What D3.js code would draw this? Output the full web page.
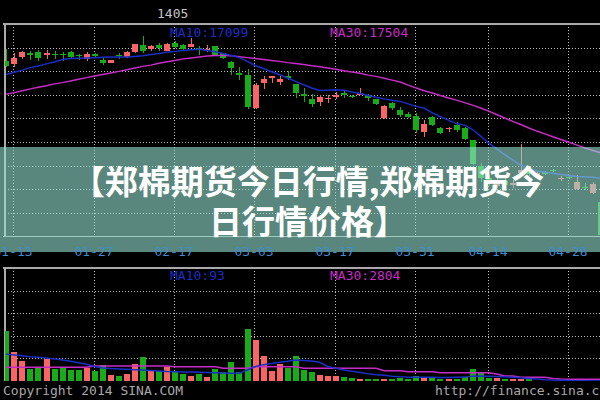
<!DOCTYPE html>
<html><head><meta charset="utf-8">
<script src="https://cdn.jsdelivr.net/npm/d3@7"></script>
<style>html,body{margin:0;padding:0;background:#000;}svg{display:block;}</style>
</head><body>
<svg id="chart" width="600" height="400"></svg>
<script>
// ---------- data ----------
const contract = "1405";
const dates = ["01-10","01-13","01-14","01-15","01-16","01-17","01-20","01-21","01-22","01-23",
"01-24","01-27","01-28","01-29","01-30","02-07","02-10","02-11","02-12","02-13",
"02-14","02-17","02-18","02-19","02-20","02-21","02-24","02-25","02-26","02-27",
"02-28","03-03","03-04","03-05","03-06","03-07","03-10","03-11","03-12","03-13",
"03-14","03-17","03-18","03-19","03-20","03-21","03-24","03-25","03-26","03-27",
"03-28","03-31","04-01","04-02","04-03","04-04","04-08","04-09","04-10","04-11",
"04-14","04-15","04-16","04-17","04-18","04-21","04-22","04-23","04-24","04-25",
"04-28","04-29","04-30","05-05","05-06"];
const tickDates = ["01-13","01-27","02-17","03-03","03-17","03-31","04-14","04-28"];
const open = [18975,18930,19045,19110,19120,19070,19090,19085,19125,19070,
19010,19090,19000,18950,19080,19035,19125,19230,19165,19230,
19140,19270,19230,19205,19185,19150,19210,19100,18965,18780,
18750,18220,18630,18700,18645,18735,18610,18450,18365,18325,
18370,18405,18460,18420,18430,18430,18365,18060,18300,18200,
18125,18095,17845,18075,17900,17885,17950,17900,17710,17295,
17105,16975,17055,16990,17185,17200,17150,17200,17230,17095,
17120,16925,16965,16860,16725];
const high = [19170,19105,19130,19135,19150,19160,19135,19120,19130,19090,
19125,19110,19020,18990,19110,19135,19255,19375,19230,19270,
19265,19295,19250,19345,19215,19230,19215,19105,18975,18885,
18845,18620,18730,18735,18735,18820,18615,18540,18450,18430,
18430,18485,18500,18430,18540,18450,18370,18270,18325,18245,
18165,18140,18030,18095,17925,17925,18005,17920,17720,17345,
17150,17105,17105,17070,17650,17230,17200,17215,17250,17135,
17135,17150,17025,17040,16750];
const low = [18880,18880,19010,18990,18975,19010,19010,18980,19025,18990,
18980,19025,18910,18945,19005,19030,19100,19110,19140,19140,
19135,19185,19150,19200,19070,19120,19055,19010,18750,18670,
18205,18215,18525,18630,18590,18670,18385,18325,18245,18250,
18305,18365,18380,18390,18425,18340,18280,18055,18190,18085,
18060,17820,17765,17935,17810,17845,17845,17710,17310,17040,
16975,16945,16910,16945,17150,17135,17135,17150,17200,17055,
17095,16920,16910,16850,16170];
const close = [18895,19025,19125,19065,19025,19105,19065,19070,19035,19055,
19095,19055,18940,18990,19055,19125,19250,19140,19215,19180,
19250,19195,19165,19250,19160,19175,19070,19020,18860,18750,
18240,18590,18685,18730,18685,18700,18460,18415,18290,18405,
18390,18430,18425,18395,18460,18390,18290,18250,18220,18110,
18085,17870,17970,17950,17830,17910,17880,17725,17330,17105,
17055,17040,16990,17025,17230,17170,17185,17175,17215,17110,
17110,17045,16940,17010,16190];
const ma10 = [18760,18795,18830,18870,18895,18930,18960,19000,19015,19020,
19025,19030,19035,19040,19040,19040,19050,19060,19080,19095,
19115,19130,19145,19155,19165,19145,19125,19095,19065,19030,
18970,18900,18855,18805,18755,18705,18650,18595,18545,18505,
18510,18515,18510,18480,18455,18425,18395,18370,18350,18330,
18290,18250,18220,18145,18085,18030,17975,17950,17880,17775,
17665,17570,17480,17390,17310,17255,17215,17195,17180,17160,
17145,17130,17125,17115,17099];
const ma30 = [18445,18470,18500,18530,18555,18580,18610,18630,18655,18685,
18710,18735,18760,18785,18810,18835,18865,18890,18910,18940,
18965,18985,19010,19025,19040,19055,19065,19065,19060,19045,
19030,19015,19000,18985,18970,18950,18935,18920,18900,18885,
18865,18845,18820,18800,18780,18750,18730,18700,18670,18640,
18590,18545,18500,18465,18425,18385,18350,18310,18270,18225,
18175,18120,18065,18010,17960,17905,17855,17810,17765,17720,
17675,17630,17585,17545,17504];
const volume = [83000,48300,33000,19300,22000,35800,19800,23600,18200,18200,
21000,16500,26400,9900,8300,11600,28000,40100,16500,16500,
22600,16500,11600,8300,11600,7100,19800,15300,31800,15300,
85800,67700,41300,17000,28000,21000,41300,18200,15300,9900,
8300,8300,6100,4500,3800,3300,4100,3300,2800,5000,
4100,8300,5800,5000,4100,3300,4100,6600,19300,12700,
5000,5000,4100,4100,3300,2500,800,500,300,200,
150,100,100,80,60];
const volMa10 = [44600,43000,41500,40000,39000,37800,36500,34800,32500,30000,
27500,24000,21500,20500,19800,19200,18700,18200,17400,16600,
15600,15300,15000,14700,14400,14000,13500,13000,12700,12700,
18200,24000,27000,29000,31000,32500,34600,34000,33000,31000,
24000,21000,18200,16000,14000,12000,10500,9300,8000,7000,
6300,6100,6100,6000,5900,5800,6000,6400,7800,8300,
8000,7600,7100,6300,5300,4300,3200,2200,1500,1100,
800,500,300,150,93];
const volMa30 = [22600,22600,22600,22600,22600,22600,22600,22600,22600,22600,
22600,24700,24700,24700,24700,24700,24700,24700,24700,24700,
24700,23600,23600,23600,23600,23600,23600,21000,21000,21000,
21000,23600,23600,23600,23600,23600,23600,21000,21000,21000,
21000,21000,21000,21000,21000,21000,21000,17000,17000,17000,
15300,15300,15300,15300,13700,13700,13700,13700,13700,13700,
13700,11600,8300,8300,6100,6100,6100,6100,4000,3200,
2804,2804,2804,2804,2804];
const titleLines = ["【郑棉期货今日行情,郑棉期货今", "日行情价格】"];
const copyrightText = "Copyright 2014 SINA.COM";
const urlText = "http://finance.sina.com.cn";
const priceDomain = [16170, 19568];
const volDomain = [0, 186450];

// ---------- drawing ----------
const W = 600, H = 400;
const mainTop = 24, mainBottom = 236.4, volTop = 268, volBottom = 381, leftEdge = 4.5;
const UP = "#fa6464", DOWN = "#18ac18", BLUE = "#1a2ec8", MAG = "#c82cc8", GRID = "#bdbdbd", BORDER = "#aaaaaa";
const MONO = "'DejaVu Sans Mono', 'Liberation Mono', monospace";

const svg = d3.select("#chart");
svg.append("rect").attr("width", W).attr("height", H).attr("fill", "#000");

const x = d3.scaleBand().domain(dates).range([2.18, 605.18]).paddingInner(0.28).paddingOuter(0.14);
const yP = d3.scaleLinear().domain(priceDomain).range([mainBottom, mainTop]);
const yV = d3.scaleLinear().domain(volDomain).range([volBottom, volTop]);
const cx = d => x(d) + x.bandwidth() / 2;
const bx = d => Math.round(x(d));
const bw = Math.round(x.bandwidth());
const isUp = i => close[i] >= open[i];

const defs = svg.append("defs");
defs.append("clipPath").attr("id", "clipMain").append("rect")
  .attr("x", 5).attr("y", mainTop + 1).attr("width", W - 5).attr("height", mainBottom - mainTop - 1);
defs.append("clipPath").attr("id", "clipVol").append("rect")
  .attr("x", 5).attr("y", volTop + 1).attr("width", W - 5).attr("height", volBottom - volTop - 1);

// grids
const grid = svg.append("g").attr("stroke", GRID).attr("stroke-dasharray", "1,2").attr("shape-rendering", "crispEdges");
const pStep = (priceDomain[1] - priceDomain[0]) / 9;
d3.range(1, 9).forEach(k => {
  const yy = Math.round(yP(priceDomain[0] + k * pStep)) + 0.5;
  grid.append("line").attr("x1", leftEdge).attr("x2", W).attr("y1", yy).attr("y2", yy);
});
const vStep = (volDomain[1] - volDomain[0]) / 5;
d3.range(1, 5).forEach(k => {
  const yy = Math.round(yV(k * vStep)) + 0.5;
  grid.append("line").attr("x1", leftEdge).attr("x2", W).attr("y1", yy).attr("y2", yy);
});
tickDates.forEach(d => {
  const gx = Math.round(cx(d) - 1) + 0.5;
  grid.append("line").attr("x1", gx).attr("x2", gx).attr("y1", mainTop).attr("y2", mainBottom);
  grid.append("line").attr("x1", gx).attr("x2", gx).attr("y1", volTop).attr("y2", volBottom);
});

// borders
const border = svg.append("g").attr("stroke", BORDER).attr("shape-rendering", "crispEdges");
border.append("line").attr("x1", 3).attr("x2", W).attr("y1", mainTop).attr("y2", mainTop).attr("stroke-width", 2);
border.append("line").attr("x1", leftEdge).attr("x2", leftEdge).attr("y1", mainTop).attr("y2", mainBottom).attr("stroke-width", 2);
border.append("line").attr("x1", 3).attr("x2", W).attr("y1", 236.5).attr("y2", 236.5).attr("stroke-width", 1);
border.append("line").attr("x1", 3).attr("x2", W).attr("y1", volTop).attr("y2", volTop).attr("stroke-width", 2);
border.append("line").attr("x1", leftEdge).attr("x2", leftEdge).attr("y1", volTop).attr("y2", volBottom).attr("stroke-width", 2);

// candles
const gMain = svg.append("g").attr("clip-path", "url(#clipMain)");
const cg = gMain.append("g").attr("shape-rendering", "crispEdges");
cg.selectAll("line.wick").data(dates).join("line").attr("class", "wick")
  .attr("x1", d => bx(d) + bw / 2).attr("x2", d => bx(d) + bw / 2)
  .attr("y1", (d, i) => yP(high[i])).attr("y2", (d, i) => yP(low[i]))
  .attr("stroke", (d, i) => isUp(i) ? UP : DOWN).attr("stroke-width", 1);
cg.selectAll("rect.body").data(dates).join("rect").attr("class", "body")
  .attr("x", d => bx(d)).attr("width", bw)
  .attr("y", (d, i) => Math.min(yP(open[i]), yP(close[i])))
  .attr("height", (d, i) => Math.max(1.2, Math.abs(yP(open[i]) - yP(close[i]))))
  .attr("fill", (d, i) => isUp(i) ? UP : DOWN);

const lineP = arr => d3.line().x((d, i) => cx(dates[i])).y(d => yP(d))(arr);
gMain.append("path").attr("d", lineP(ma30)).attr("fill", "none").attr("stroke", MAG).attr("stroke-width", 1.5);
gMain.append("path").attr("d", lineP(ma10)).attr("fill", "none").attr("stroke", BLUE).attr("stroke-width", 1.5);

// legends main
const legend = (xx, yy, txt, col) => svg.append("text").attr("x", xx).attr("y", yy).text(txt)
  .attr("fill", col).attr("font-family", MONO).attr("font-size", 13);
legend(170, 37, "MA10:" + ma10[ma10.length - 1], BLUE);
legend(330, 37, "MA30:" + ma30[ma30.length - 1], MAG);

// volume
const gVol = svg.append("g").attr("clip-path", "url(#clipVol)");
gVol.append("g").attr("shape-rendering", "crispEdges").selectAll("rect").data(dates).join("rect")
  .attr("x", d => bx(d)).attr("width", bw)
  .attr("y", (d, i) => yV(volume[i])).attr("height", (d, i) => volBottom - yV(volume[i]))
  .attr("fill", (d, i) => isUp(i) ? UP : DOWN);
const lineV = arr => d3.line().x((d, i) => cx(dates[i])).y(d => yV(d))(arr);
gVol.append("path").attr("d", lineV(volMa30)).attr("fill", "none").attr("stroke", MAG).attr("stroke-width", 1.5);
gVol.append("path").attr("d", lineV(volMa10)).attr("fill", "none").attr("stroke", BLUE).attr("stroke-width", 1.5);
legend(170, 280, "MA10:" + volMa10[volMa10.length - 1], BLUE);
legend(330, 280, "MA30:" + volMa30[volMa30.length - 1], MAG);

// texts
svg.append("text").attr("x", 157).attr("y", 18).text(contract).attr("fill", "#c4c4c4")
  .attr("font-family", MONO).attr("font-size", 13);
svg.append("text").attr("x", 3).attr("y", 395).text(copyrightText).attr("fill", "#a8a8a8")
  .attr("font-family", MONO).attr("font-size", 13);
svg.append("text").attr("x", 435).attr("y", 395).text(urlText).attr("fill", "#a8a8a8")
  .attr("font-family", MONO).attr("font-size", 13);

// banner overlay
svg.append("rect").attr("x", 0).attr("y", 147).attr("width", W).attr("height", 105)
  .attr("fill", "rgb(150,225,208)").attr("opacity", 0.6);

// date labels
svg.append("g").selectAll("text").data(tickDates).join("text")
  .attr("x", d => Math.round(cx(d) - 1)).attr("y", 256).attr("text-anchor", "middle")
  .text(d => d).attr("fill", "#3c8cd2").attr("font-family", MONO).attr("font-size", 13);

// title
svg.append("g").selectAll("text").data(titleLines).join("text")
  .attr("x", 308).attr("y", (d, i) => 194 + i * 40).attr("text-anchor", "middle")
  .attr("fill", "#ffffff").attr("font-family", "'Noto Sans CJK SC', sans-serif")
  .attr("font-weight", 700).attr("font-size", 33).text(d => d);
</script>
</body></html>
